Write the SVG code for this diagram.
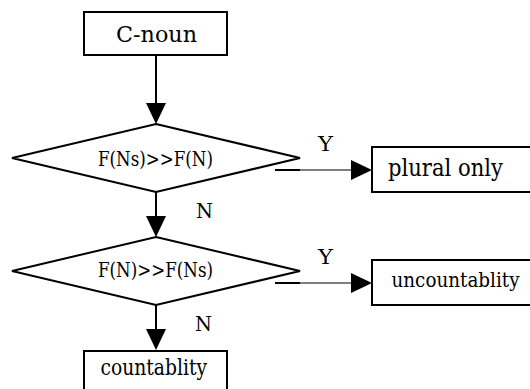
<svg xmlns="http://www.w3.org/2000/svg" width="530" height="389" viewBox="0 0 530 389">
<style>
.box{fill:#fff;stroke:#000;stroke-width:2}
.dia{fill:#fff;stroke:#000;stroke-width:2}
.v{stroke:#000;stroke-width:2;fill:none}
.h{stroke:#000;stroke-width:1.2;fill:none}
.stub{stroke:#000;stroke-width:2;fill:none}
.ah{fill:#000;stroke:none}
text{font-family:'DejaVu Serif',serif;fill:#000}
</style>
<rect width="530" height="389" fill="#fff"/>
<g id="connectors">
<line class="v" x1="156" y1="56" x2="156" y2="104"/>
<polygon class="ah" points="146,103 166,103 156,124"/>
<line class="v" x1="156" y1="192" x2="156" y2="217"/>
<polygon class="ah" points="146,216 166,216 156,237"/>
<line class="v" x1="156" y1="305" x2="156" y2="330"/>
<polygon class="ah" points="146,329 166,329 156,350"/>
<line class="stub" x1="275" y1="170" x2="300" y2="170"/>
<line class="h" x1="300" y1="170" x2="353" y2="170"/>
<polygon class="ah" points="351,160 372,170 351,180"/>
<line class="stub" x1="275" y1="283" x2="300" y2="283"/>
<line class="h" x1="300" y1="283" x2="353" y2="283"/>
<polygon class="ah" points="351,273 372,283 351,293"/>
<text x="318" y="151" font-size="20" textLength="15" lengthAdjust="spacingAndGlyphs">Y</text>
<text x="318" y="264" font-size="20" textLength="15" lengthAdjust="spacingAndGlyphs">Y</text>
<text x="196" y="218" font-size="20.5" textLength="17" lengthAdjust="spacingAndGlyphs">N</text>
<text x="195" y="331" font-size="20.5" textLength="17" lengthAdjust="spacingAndGlyphs">N</text>
</g>
<g id="c-noun">
<rect class="box" x="84" y="12" width="143" height="43"/>
<text x="116" y="42" font-size="23" textLength="81" lengthAdjust="spacingAndGlyphs">C-noun</text>
</g>
<g id="decision1">
<polygon class="dia" points="156,124 300,158 156,192 12,158"/>
<text x="98" y="166" font-size="20" textLength="115" lengthAdjust="spacingAndGlyphs">F(Ns)&gt;&gt;F(N)</text>
</g>
<g id="plural-only">
<rect class="box" x="372" y="147" width="170" height="45"/>
<text x="388" y="176" font-size="23.5" textLength="115" lengthAdjust="spacingAndGlyphs">plural only</text>
</g>
<g id="decision2">
<polygon class="dia" points="156,237 300,271 156,305 12,271"/>
<text x="98" y="277" font-size="20" textLength="115" lengthAdjust="spacingAndGlyphs">F(N)&gt;&gt;F(Ns)</text>
</g>
<g id="uncountablity">
<rect class="box" x="372" y="260" width="170" height="45"/>
<text x="391.5" y="287" font-size="21.3" textLength="128" lengthAdjust="spacingAndGlyphs">uncountablity</text>
</g>
<g id="countablity">
<rect class="box" x="84" y="351" width="143" height="50"/>
<text x="100.5" y="375" font-size="21.5" textLength="106.5" lengthAdjust="spacingAndGlyphs">countablity</text>
</g>
</svg>
